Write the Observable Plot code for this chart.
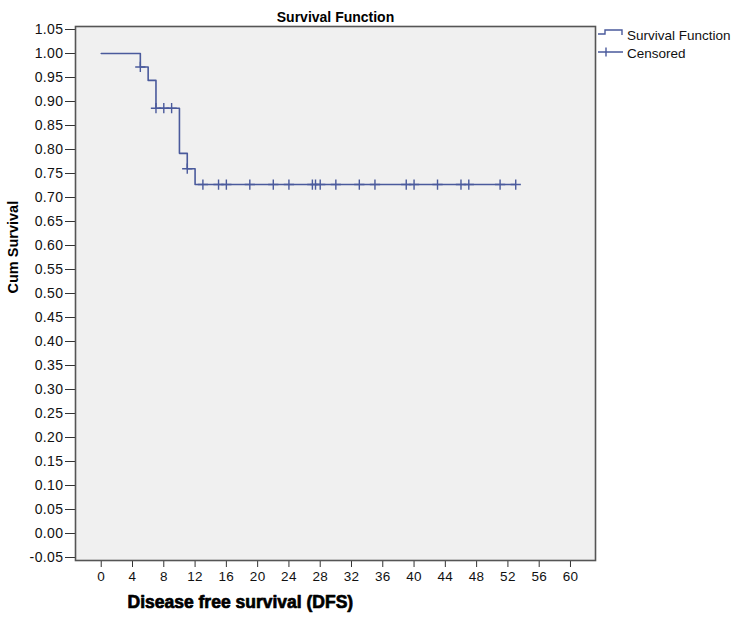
<!DOCTYPE html>
<html>
<head>
<meta charset="utf-8">
<script src="https://cdn.jsdelivr.net/npm/d3@7"></script>
<script src="https://cdn.jsdelivr.net/npm/@observablehq/plot@0.6"></script>
<style>
  html, body { margin: 0; padding: 0; background: #ffffff; }
  #chart { position: relative; width: 737px; height: 627px; }
</style>
</head>
<body>
<div id="chart"></div>
<script>
// Kaplan–Meier step values
const eventTimes = [0, 5, 6, 7, 10, 11, 12, 53];
const survival   = [1.000, 0.972, 0.944, 0.886, 0.792, 0.760, 0.727, 0.727];
// Censored observation times
const censoredTimes = [5, 7, 8, 9, 11, 13, 15, 16, 19, 22, 24, 27, 27.4, 28, 30, 33, 35, 39, 40, 43, 46, 47, 51, 53];
// Tick labels
const xTicks = [0, 4, 8, 12, 16, 20, 24, 28, 32, 36, 40, 44, 48, 52, 56, 60];
const yTicks = [-0.05, 0.00, 0.05, 0.10, 0.15, 0.20, 0.25, 0.30, 0.35, 0.40, 0.45, 0.50,
                0.55, 0.60, 0.65, 0.70, 0.75, 0.80, 0.85, 0.90, 0.95, 1.00, 1.05];

const title = "Survival Function";
const xLabel = "Disease free survival (DFS)";
const yLabel = "Cum Survival";
const legendItems = ["Survival Function", "Censored"];

const lineColor = "#4a5a9c";

const steps = eventTimes.map((t, i) => ({t, s: survival[i]}));
// survival value at a censor time = value of the step in effect (step lookup)
const survAt = t => {
  let s = survival[0];
  for (let i = 0; i < eventTimes.length; i++) if (t >= eventTimes[i]) s = survival[i];
  return s;
};
const censored = censoredTimes.map(t => ({t, s: survAt(t)}));

const plot = Plot.plot({
  width: 737,
  height: 627,
  marginLeft: 75,
  marginRight: 142,
  marginTop: 26,
  marginBottom: 67,
  style: {fontFamily: "'Liberation Sans', Arial, sans-serif", color: "#111", background: "#ffffff"},
  x: {domain: [-3.29, 63.2]},
  y: {domain: [-0.05625, 1.05625]},
  marks: [
    Plot.frame({fill: "#f0f0f0", stroke: "none"}),
    Plot.axisX({ticks: xTicks, tickSize: 7, tickPadding: 4, label: null, tickFormat: d => String(d), stroke: "#333", fontSize: 13.5}),
    Plot.axisY({ticks: yTicks, tickSize: 10, tickPadding: 2, label: null, tickFormat: d => d.toFixed(2), stroke: "#333", fontSize: 14}),
    Plot.line(steps, {x: "t", y: "s", curve: "step-after", stroke: lineColor, strokeWidth: 1.6}),
    Plot.dot(censored, {x: "t", y: "s", symbol: "plus", r: 3.4, stroke: lineColor, strokeWidth: 1.4}),
    Plot.frame({stroke: "#555", strokeWidth: 1.6}),
    Plot.text([title], {frameAnchor: "top", dy: -14, fontWeight: "bold", fontSize: 14, fill: "#000"}),
    Plot.text([yLabel], {frameAnchor: "left", dx: -62, rotate: -90, fontWeight: "bold", fontSize: 14.5, fill: "#000"}),
    Plot.text([xLabel], {frameAnchor: "bottom-left", dx: 52, dy: 47, textAnchor: "start",
      fontWeight: 900, fontSize: 17.5, fill: "#000", stroke: "#000", strokeWidth: 0.7, letterSpacing: "-0.5px"})
  ]
});

document.getElementById("chart").appendChild(plot);

const svg = d3.select(plot.tagName.toLowerCase() === "svg" ? plot : plot.querySelector("svg"));

// Slightly wider spacing on tick labels, as in the reference
const yLabels = new Set(yTicks.map(d => d.toFixed(2)));
const xLabels = new Set(xTicks.map(d => String(d)));
svg.selectAll("text").each(function() {
  const t = this.textContent;
  if (yLabels.has(t)) d3.select(this).style("letter-spacing", "0.4px");
  else if (xLabels.has(t)) d3.select(this).style("letter-spacing", "0.3px");
});

// Legend (outside the frame, top right)
const lg = svg.append("g")
  .attr("font-family", "'Liberation Sans', Arial, sans-serif")
  .attr("font-size", 13.5)
  .attr("text-anchor", "start");
lg.append("path").attr("d", "M598,34H605V30H622V35").attr("fill", "none").attr("stroke", lineColor).attr("stroke-width", 1.4);
lg.append("text").attr("x", 627).attr("y", 35).attr("dy", "0.35em").attr("text-anchor", "start").attr("fill", "#111").text(legendItems[0]);
lg.append("path").attr("d", "M598,52H623M606,47.5V56.5").attr("fill", "none").attr("stroke", lineColor).attr("stroke-width", 1.4);
lg.append("text").attr("x", 627).attr("y", 53).attr("dy", "0.35em").attr("text-anchor", "start").attr("fill", "#111").text(legendItems[1]);
</script>
</body>
</html>
